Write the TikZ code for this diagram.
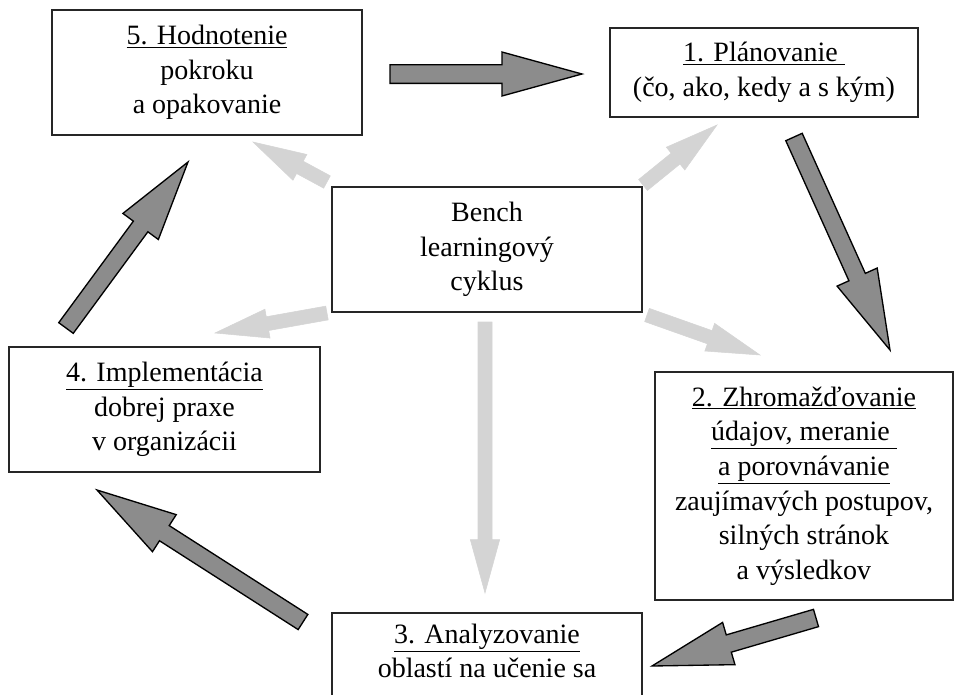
\documentclass[tikz,border=0pt]{standalone}
\usepackage{fontspec}
\setmainfont{Liberation Serif}
\usepackage{tikz}
\usetikzlibrary{calc}

% block arrow: [style]{tail}{tip}{shaft half width}{head half width}{head length}
\newcommand{\blockarrow}[6][]{%
  \coordinate (neck) at ($(#3)!#6!(#2)$);
  \path[#1] ($(#2)!#4!90:(#3)$) -- ($(neck)!#4!90:(#3)$) -- ($(neck)!#5!90:(#3)$)
    -- (#3) -- ($(neck)!#5!-90:(#3)$) -- ($(neck)!#4!-90:(#3)$)
    -- ($(#2)!#4!-90:(#3)$) -- cycle;
}

\begin{document}
\begin{tikzpicture}[
    x=0.75pt, y=-0.75pt,
    box/.style={draw=black!85, line width=1.5pt, fill=white, align=center,
                font=\fontsize{21}{26}\selectfont, inner sep=6pt},
    darkarr/.style={fill=black!45, draw=black, line width=1pt, line join=miter},
    lightarr/.style={fill=black!17, draw=black!17, line width=0.4pt},
  ]
  \useasboundingbox (0,0) rectangle (958,694);

  % Boxes of the cycle
  \node[box, minimum width=232.5pt, minimum height=93.75pt] (hodn) at (207,72.5)
    {\underline{5. Hodnotenie}\\pokroku\\a opakovanie};
  \node[box, minimum width=231pt, minimum height=66.75pt] (plan) at (764,72.5)
    {\underline{1. Plánovanie\ }\\(čo, ako, kedy a s kým)};
  \node[box, minimum width=232.5pt, minimum height=93.75pt] (bench) at (487,249.5)
    {Bench\\learningový\\cyklus};
  \node[box, minimum width=233pt, minimum height=93.75pt] (impl) at (164.5,409.5)
    {\underline{4. Implementácia}\\dobrej praxe\\v organizácii};
  \node[box, minimum width=223.5pt, minimum height=171pt] (zhrom) at (804,486)
    {\underline{2. Zhromažďovanie}\\\underline{údajov, meranie\ }\\\underline{a porovnávanie}\\
     zaujímavých postupov,\\silných stránok\\a výsledkov};
  \node[box, anchor=north, minimum width=232.5pt, inner ysep=8pt, text depth=60pt] (anal) at (487,612)
    {\underline{3. Analyzovanie}\\oblastí na učenie sa};

  % Arrow ends
  \coordinate (t51) at (390,74);  \coordinate (h51) at (582,74);
  \coordinate (t12) at (794,137); \coordinate (h12) at (890,350);
  \coordinate (t23) at (816,618); \coordinate (h23) at (652,666);
  \coordinate (t34) at (303,622); \coordinate (h34) at (97,490);
  \coordinate (t45) at (66,328);  \coordinate (h45) at (188,162);

  \coordinate (lt5) at (327,182); \coordinate (lh5) at (253,142);
  \coordinate (lt1) at (643,185); \coordinate (lh1) at (717,125);
  \coordinate (lt4) at (327,313); \coordinate (lh4) at (215,333);
  \coordinate (lt2) at (647,315); \coordinate (lh2) at (760,355);
  \coordinate (lt3) at (485,322); \coordinate (lh3) at (485,593);

  % Cycle arrows
  \blockarrow[darkarr]{t51}{h51}{7pt}{16.5pt}{60pt}
  \blockarrow[darkarr]{t12}{h12}{6.75pt}{16.5pt}{60pt}
  \blockarrow[darkarr]{t23}{h23}{6.75pt}{16.5pt}{60pt}
  \blockarrow[darkarr]{t34}{h34}{6.75pt}{16.5pt}{60pt}
  \blockarrow[darkarr]{t45}{h45}{6.75pt}{16.5pt}{60pt}

  % Arrows out of the centre
  \blockarrow[lightarr]{lt5}{lh5}{5.25pt}{11pt}{40pt}
  \blockarrow[lightarr]{lt1}{lh1}{5.25pt}{11pt}{40pt}
  \blockarrow[lightarr]{lt4}{lh4}{5.25pt}{11pt}{40pt}
  \blockarrow[lightarr]{lt2}{lh2}{5.25pt}{11pt}{40pt}
  \blockarrow[lightarr]{lt3}{lh3}{5.25pt}{11pt}{40pt}
\end{tikzpicture}
\end{document}
